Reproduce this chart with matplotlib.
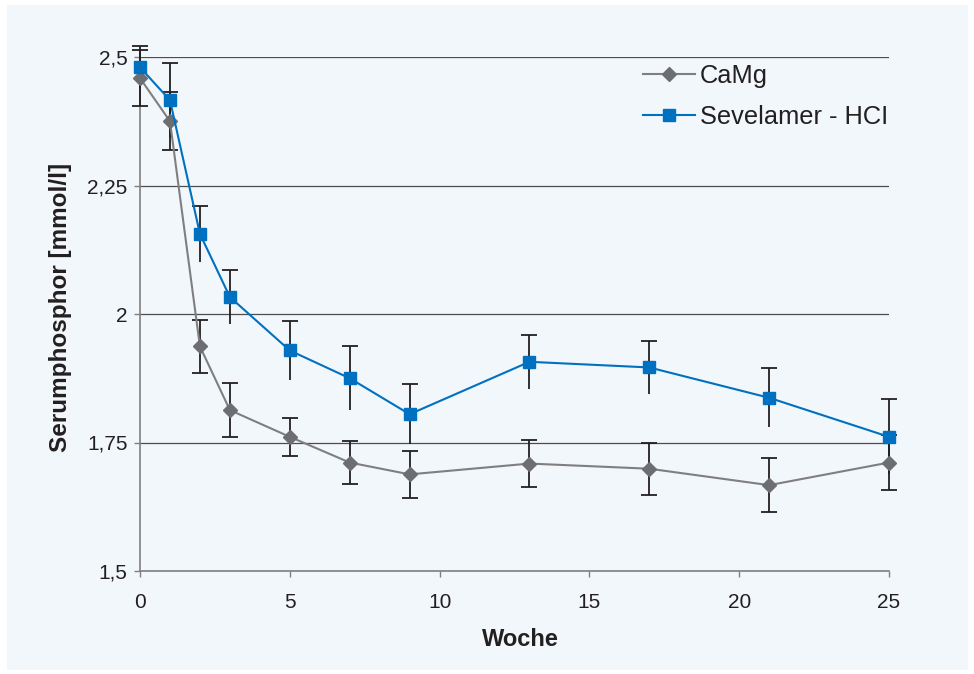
import matplotlib
matplotlib.use("Agg")
import matplotlib.pyplot as plt
from matplotlib.patches import Rectangle

plt.rcParams["font.family"] = ["Liberation Sans", "DejaVu Sans"]

weeks = [0, 1, 2, 3, 5, 7, 9, 13, 17, 21, 25]

camg = [2.459, 2.375, 1.937, 1.813, 1.761, 1.711, 1.688, 1.709, 1.699, 1.667, 1.711]
camg_err = [0.054, 0.056, 0.051, 0.052, 0.037, 0.041, 0.046, 0.046, 0.051, 0.052, 0.053]

sevel = [2.480, 2.416, 2.156, 2.033, 1.929, 1.875, 1.805, 1.907, 1.896, 1.837, 1.761]
sevel_err = [0.041, 0.072, 0.055, 0.052, 0.057, 0.062, 0.058, 0.053, 0.052, 0.057, 0.073]

y_ticks = [1.5, 1.75, 2.0, 2.25, 2.5]
y_labels = ["1,5", "1,75", "2", "2,25", "2,5"]
x_ticks = [0, 5, 10, 15, 20, 25]

bg = "#f2f7fc"
blue = "#0070c0"
grey_line = "#7f7f7f"
grey_mark = "#6d6e71"
bar_col = "#231f20"

fig = plt.figure(figsize=(9.74, 6.74), dpi=100, facecolor="white")
fig.patches.append(Rectangle((7 / 974, 4 / 674), 961 / 974, 665 / 674,
                             transform=fig.transFigure, facecolor=bg,
                             edgecolor="none", zorder=-10))

ax = fig.add_axes([140 / 974, 103 / 674, 749 / 974, 514 / 674])
ax.set_facecolor(bg)
ax.patch.set_alpha(0)

# error bars first so the markers sit on top
eb = ax.errorbar(weeks, camg, yerr=camg_err, fmt="none", ecolor=bar_col,
                 elinewidth=1.3, capsize=5.5, capthick=1.3, zorder=3)
for art in eb.lines[1] + tuple(eb.lines[2]):
    art.set_clip_on(False)

eb2 = ax.errorbar(weeks, sevel, yerr=sevel_err, fmt="none", ecolor=bar_col,
                  elinewidth=1.3, capsize=5.5, capthick=1.3, zorder=3)
eb2.lines[1][0].set_visible(False)  # only upper caps for Sevelamer
for art in eb2.lines[1] + tuple(eb2.lines[2]):
    art.set_clip_on(False)

ax.plot(weeks, camg, color=grey_line, lw=1.5, marker="D", ms=6.8,
        mfc=grey_mark, mec=grey_mark, label="CaMg", zorder=4, clip_on=False)
ax.plot(weeks, sevel, color=blue, lw=1.5, marker="s", ms=9,
        mfc=blue, mec=blue, label="Sevelamer - HCI", zorder=5, clip_on=False)

ax.set_xlim(0, 25)
ax.set_ylim(1.5, 2.5)
ax.set_yticks(y_ticks)
ax.set_yticklabels(y_labels)
ax.set_xticks(x_ticks)
ax.grid(axis="y", color="#4d4d4d", lw=0.9, zorder=1)
ax.set_axisbelow(True)

for s in ["top", "right"]:
    ax.spines[s].set_visible(False)
for s in ["left", "bottom"]:
    ax.spines[s].set_color("#808080")
    ax.spines[s].set_linewidth(1.2)

ax.tick_params(axis="both", direction="out", length=4, width=1,
               color="#808080", labelsize=15, labelcolor="#231f20")
ax.tick_params(axis="y", pad=5)
ax.tick_params(axis="x", pad=12)

ax.set_xlabel("Woche", fontsize=17, fontweight="bold", color="#231f20")
ax.xaxis.set_label_coords(0.508, -0.11)
ax.set_ylabel("Serumphosphor [mmol/l]", fontsize=17.5, fontweight="bold",
              color="#231f20")
ax.yaxis.set_label_coords(-0.091, 0.512)

ax.legend(loc="upper left", bbox_to_anchor=(643 / 974, 1 - 64 / 674),
          bbox_transform=fig.transFigure, frameon=False, fontsize=18.3,
          handlelength=2.05, handletextpad=0.2, borderpad=0,
          borderaxespad=0, labelspacing=0.66, labelcolor="#231f20")

fig.savefig("out.png", dpi=100, facecolor="white")
